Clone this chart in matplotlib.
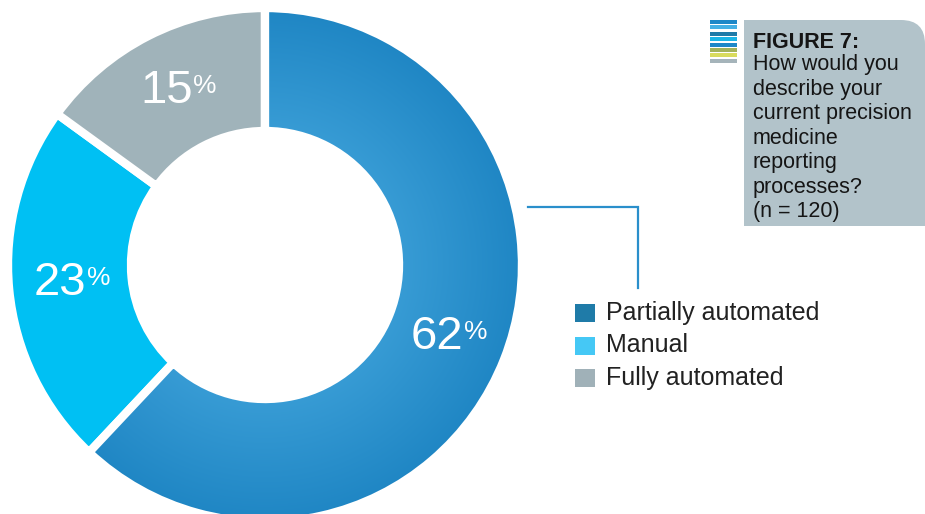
import numpy as np
import matplotlib.pyplot as plt
from matplotlib.patches import Rectangle, FancyBboxPatch

plt.rcParams['font.family'] = ['Liberation Sans', 'DejaVu Sans']

# Data
categories = ['Partially automated', 'Manual', 'Fully automated']
shares = [62, 23, 15]
wedge_colors = ['#2A8FCB', '#00C0F3', '#A0B3BA']
legend_colors = ['#1F7BA8', '#45C8F5', '#A0B1B8']
title_bold = 'FIGURE 7:'
title_text = ('How would you\ndescribe your\ncurrent precision\nmedicine\n'
              'reporting\nprocesses?\n(n = 120)')
stripe_colors = ['#1E88C8', '#45B0E5', '#1F7BA8', '#1BB5E6', '#1E88C8',
                 '#A3B35A', '#D9DC5E', '#A5B4BA']

W, H = 925, 514
fig = plt.figure(figsize=(W / 100, H / 100), dpi=100)
ax = fig.add_axes([0, 0, 1, 1])
ax.set_xlim(0, W)
ax.set_ylim(0, H)
ax.set_aspect('equal')
ax.axis('off')

# pixel -> data helper (y measured from top)
def py(y):
    return H - y

cx, cy = 265, py(265)
r_out, r_in = 257, 134

wedges, _ = ax.pie(shares, colors=wedge_colors, startangle=90,
                   counterclock=False, center=(cx, cy), radius=r_out,
                   wedgeprops=dict(width=r_out - r_in, edgecolor='white',
                                   linewidth=6))
ax.set_xlim(0, W)
ax.set_ylim(0, H)

# radial gradient on the big wedge
gx, gy = np.meshgrid(np.linspace(cx - r_out, cx + r_out, 400),
                     np.linspace(cy - r_out, cy + r_out, 400))
dist = np.hypot(gx - cx, gy - cy)
t = np.clip((dist - r_in) / (r_out - r_in), 0, 1)
c0 = np.array([0x38, 0x9C, 0xD5]) / 255
c1 = np.array([0x1F, 0x86, 0xC4]) / 255
img = c0[None, None, :] * (1 - t[..., None]) + c1[None, None, :] * t[..., None]
im = ax.imshow(img, extent=(cx - r_out, cx + r_out, cy - r_out, cy + r_out),
               origin='lower', zorder=2, interpolation='bilinear')
im.set_clip_path(wedges[0])
wedges[0].set_facecolor('none')
wedges[0].set_zorder(3)

# percentage labels at wedge mid-radius
r_mid = (r_out + r_in) / 2
for w, val in zip(wedges, shares):
    ang = np.deg2rad((w.theta1 + w.theta2) / 2)
    mx, my = cx + r_mid * np.cos(ang), cy + r_mid * np.sin(ang)
    num = ax.text(mx - 10, my, str(val), color='white', fontsize=34,
                  ha='center', va='center', zorder=5)
    ax.annotate('%', xy=(1, 0.86), xycoords=num, ha='left', va='top',
                color='white', fontsize=19, xytext=(0.5, 1),
                textcoords='offset points', zorder=5)

# connector line
ax.plot([528, 638, 638], [py(207), py(207), py(288)], color='#2A8FCB',
        lw=1.6, solid_joinstyle='miter', zorder=4)

# legend
for i, (lab, col) in enumerate(zip(categories, legend_colors)):
    yc = py(313 + i * 32.5)
    ax.add_patch(Rectangle((575, yc - 9), 20, 18, color=col, lw=0))
    ax.text(606, yc, lab, fontsize=18, color='#222222', va='center',
            ha='left')

# title box (only top-right corner rounded)
bx0, bx1, by0, by1 = 744, 925, py(226), py(20)
box = FancyBboxPatch((bx0, by0), bx1 - bx0, by1 - by0,
                     boxstyle='round,pad=0,rounding_size=24',
                     fc='#B2C3CA', ec='none', zorder=1)
ax.add_patch(box)
ax.add_patch(Rectangle((bx0, by0), bx1 - bx0, 120, fc='#B2C3CA', ec='none',
                       zorder=1))
ax.add_patch(Rectangle((bx0, by0), 120, by1 - by0, fc='#B2C3CA', ec='none',
                       zorder=1))
ax.text(753, py(48), title_bold, fontsize=15.5, fontweight='bold',
        color='#151515', ha='left', va='baseline', zorder=2)
ax.text(753, py(54), title_text, fontsize=15.5, color='#151515', ha='left',
        va='top', linespacing=1.22, zorder=2)

# striped icon
for i, col in enumerate(stripe_colors):
    y0 = 20 + i * 5.4 + (1 if i >= 2 else 0)
    ax.add_patch(Rectangle((710, py(y0 + 4)), 27, 4, fc=col, ec='none'))

fig.savefig('out.png', dpi=100)
